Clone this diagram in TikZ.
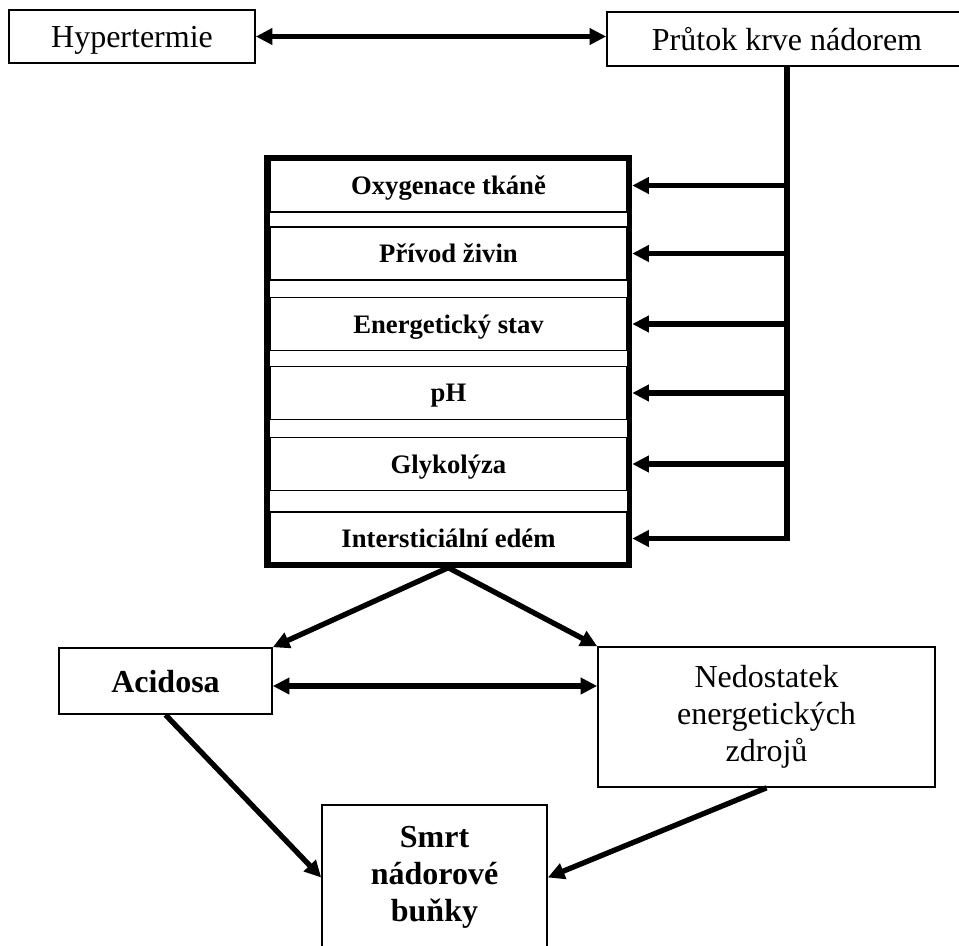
\documentclass[tikz,border=0pt]{standalone}
\usepackage{fontspec}
\setmainfont{Liberation Serif}
\usetikzlibrary{arrows.meta}

\begin{document}
\begin{tikzpicture}[x=0.75pt,y=-0.75pt,>={Triangle[length=12.5pt,width=12pt]},
  plainbox/.style={draw,line width=1.2pt,inner sep=0pt,align=center,font=\fontsize{24}{27.75}\selectfont},
  layerbox/.style={draw,line width=1.1pt,inner sep=0pt,text depth=0pt,minimum width=267.75pt,minimum height=39.75pt,font=\bfseries\fontsize{20}{24}\selectfont},
  arr/.style={line width=4pt}]
\useasboundingbox (0,0) rectangle (959,945);
\clip (0,0) rectangle (959,945);
% top row
\node[plainbox,text depth=0pt,minimum width=184.5pt,minimum height=39.75pt] (hyp) at (132,36.5) {Hypertermie};
\node[plainbox,text depth=0pt,minimum width=270pt,minimum height=40.5pt] (flow) at (787,39) {Průtok krve nádorem};
% stack of effects
\node[layerbox] (oxy) at (448.5,185.5) {Oxygenace tkáně};
\node[layerbox] (nutr) at (448.5,253.5) {Přívod živin};
\node[layerbox] (energy) at (448.5,324) {Energetický stav};
\node[layerbox] (ph) at (448.5,393) {pH};
\node[layerbox] (glyc) at (448.5,464) {Glykolýza};
\node[layerbox] (edema) at (448.5,538.5) {Intersticiální edém};
\node[draw,line width=4pt,inner sep=0pt,minimum width=272pt,minimum height=305.25pt] (stack) at (448.25,361.5) {};
% bottom
\node[plainbox,text depth=0pt,minimum width=159.75pt,minimum height=49.5pt,font=\bfseries\fontsize{24}{27.75}\selectfont] (acid) at (165.5,681) {Acidosa};
\node[plainbox,minimum width=252.75pt,minimum height=105pt] (ned) at (766.5,717) {Nedostatek\\energetických\\zdrojů};
\node[plainbox,minimum width=168.75pt,minimum height=108.75pt,font=\bfseries\fontsize{24}{28}\selectfont] (smrt) at (434.5,877.5) {Smrt\\nádorové\\buňky};

\draw[arr,<->] (hyp.east) -- (hyp.east -| flow.west);
\draw[arr,->] (flow.south) |- (edema -| stack.east);
\draw[arr,->] (flow.south |- oxy) -- (oxy -| stack.east);
\draw[arr,->] (flow.south |- nutr) -- (nutr -| stack.east);
\draw[arr,->] (flow.south |- energy) -- (energy -| stack.east);
\draw[arr,->] (flow.south |- ph) -- (ph -| stack.east);
\draw[arr,->] (flow.south |- glyc) -- (glyc -| stack.east);
\draw[arr,->] (stack.south) -- (acid.north east);
\draw[arr,->] (stack.south) -- (ned.north west);
\draw[arr,<->] ([yshift=-3.75pt]acid.east) -- ([yshift=-3.75pt]acid.east -| ned.west);
\draw[arr,->] (acid.south) -- (smrt.west);
\draw[arr,->] (ned.south) -- (smrt.east);
\end{tikzpicture}
\end{document}
